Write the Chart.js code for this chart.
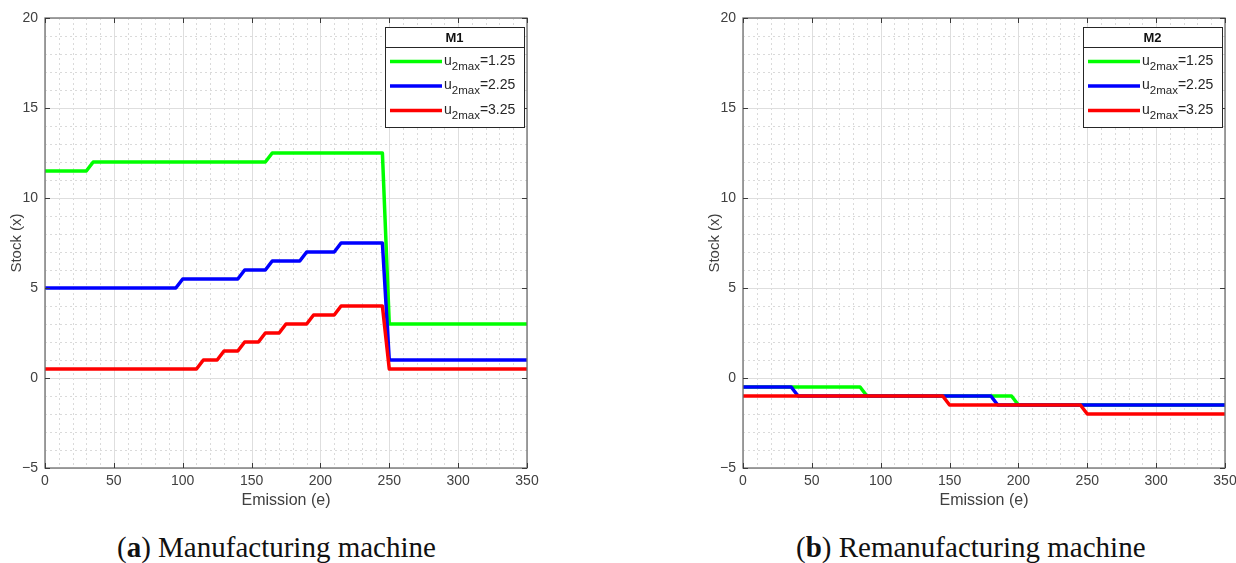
<!DOCTYPE html>
<html>
<head>
<meta charset="utf-8">
<script src="https://cdn.jsdelivr.net/npm/chart.js@4.4.1/dist/chart.umd.min.js"></script>
<style>
    body {
        margin: 0;
        background: #ffffff;
        width: 1236px;
        height: 563px;
        position: relative;
        overflow: hidden;
    }
    .panel {
        position: absolute;
        top: 0;
        width: 545px;
        height: 520px;
    }
    .caption {
        position: absolute;
        top: 530px;
        font-family: "Liberation Serif", "DejaVu Serif", serif;
        font-size: 29px;
        line-height: 34px;
        color: #111;
        white-space: nowrap;
    }
</style>
</head>
<body>
<div class="panel" style="left:0px"><canvas id="chartM1"></canvas></div>
<div class="panel" style="left:698px"><canvas id="chartM2"></canvas></div>
<div class="caption" id="capA" style="left:117px">(<b>a</b>) Manufacturing machine</div>
<div class="caption" id="capB" style="left:796px">(<b>b</b>) Remanufacturing machine</div>

<script>
// tick values / labels
const xTickValues = [0, 50, 100, 150, 200, 250, 300, 350];
const yTickValues = [-5, 0, 5, 10, 15, 20];
const yTickLabels = ["\u22125", "0", "5", "10", "15", "20"];

const legendValues = ["1.25", "2.25", "3.25"];
const lineColors = ["#00ff00", "#0000ff", "#ff0000"];

// M1 - manufacturing machine
const m1GreenX = [0, 30, 35, 160, 165, 245, 250, 350];
const m1GreenY = [11.5, 11.5, 12, 12, 12.5, 12.5, 3, 3];
const m1BlueX = [0, 95, 100, 140, 145, 160, 165, 185, 190, 210, 215, 245, 250, 350];
const m1BlueY = [5, 5, 5.5, 5.5, 6, 6, 6.5, 6.5, 7, 7, 7.5, 7.5, 1, 1];
const m1RedX = [0, 110, 115, 125, 130, 140, 145, 155, 160, 170, 175, 190, 195, 210, 215, 245, 250, 350];
const m1RedY = [0.5, 0.5, 1, 1, 1.5, 1.5, 2, 2, 2.5, 2.5, 3, 3, 3.5, 3.5, 4, 4, 0.5, 0.5];

// M2 - remanufacturing machine
const m2GreenX = [0, 85, 90, 195, 200, 350];
const m2GreenY = [-0.5, -0.5, -1, -1, -1.5, -1.5];
const m2BlueX = [0, 35, 40, 180, 185, 350];
const m2BlueY = [-0.5, -0.5, -1, -1, -1.5, -1.5];
const m2RedX = [0, 145, 150, 245, 250, 350];
const m2RedY = [-1, -1, -1.5, -1.5, -2, -2];

const axisColor = "#404040";

function toPoints(xs, ys) {
    return xs.map((x, i) => ({ x: x, y: ys[i] }));
}

// matlab style grid (major solid, minor dotted) + box with inward ticks
const matlabGrid = {
    id: "matlabGrid",
    beforeDatasetsDraw(chart) {
        const { ctx, chartArea: a, scales: { x, y } } = chart;
        ctx.save();
        ctx.lineWidth = 1;

        // minor lines
        ctx.strokeStyle = "#dadada";
        ctx.setLineDash([2, 3]);
        for (let v = x.min; v <= x.max; v += 10) {
            if (v % 50 === 0) continue;
            const px = Math.round(x.getPixelForValue(v)) + 0.5;
            ctx.beginPath();
            ctx.moveTo(px, a.top);
            ctx.lineTo(px, a.bottom);
            ctx.stroke();
        }
        for (let v = y.min; v <= y.max; v += 1) {
            if (v % 5 === 0) continue;
            const py = Math.round(y.getPixelForValue(v)) + 0.5;
            ctx.beginPath();
            ctx.moveTo(a.left, py);
            ctx.lineTo(a.right, py);
            ctx.stroke();
        }

        // major lines
        ctx.setLineDash([]);
        ctx.strokeStyle = "#dedede";
        xTickValues.forEach(v => {
            const px = Math.round(x.getPixelForValue(v)) + 0.5;
            ctx.beginPath();
            ctx.moveTo(px, a.top);
            ctx.lineTo(px, a.bottom);
            ctx.stroke();
        });
        yTickValues.forEach(v => {
            const py = Math.round(y.getPixelForValue(v)) + 0.5;
            ctx.beginPath();
            ctx.moveTo(a.left, py);
            ctx.lineTo(a.right, py);
            ctx.stroke();
        });
        ctx.restore();
    },
    afterDatasetsDraw(chart) {
        const { ctx, chartArea: a, scales: { x, y } } = chart;
        ctx.save();
        ctx.strokeStyle = "#6e6e6e";
        ctx.lineWidth = 1.3;
        ctx.strokeRect(a.left, a.top, a.right - a.left, a.bottom - a.top);

        ctx.lineWidth = 1;
        ctx.strokeStyle = "#3a3a3a";
        const tl = 5;
        xTickValues.forEach(v => {
            const px = Math.round(x.getPixelForValue(v)) + 0.5;
            ctx.beginPath();
            ctx.moveTo(px, a.bottom);
            ctx.lineTo(px, a.bottom - tl);
            ctx.moveTo(px, a.top);
            ctx.lineTo(px, a.top + tl);
            ctx.stroke();
        });
        yTickValues.forEach(v => {
            const py = Math.round(y.getPixelForValue(v)) + 0.5;
            ctx.beginPath();
            ctx.moveTo(a.left, py);
            ctx.lineTo(a.left + tl, py);
            ctx.moveTo(a.right, py);
            ctx.lineTo(a.right - tl, py);
            ctx.stroke();
        });
        ctx.restore();
    }
};

// legend box with title and subscript labels
const boxLegend = {
    id: "boxLegend",
    afterDraw(chart, args, opts) {
        const { ctx, chartArea: a } = chart;
        const w = 139;
        const h = 100;
        const left = a.right - 3 - w;
        const top = a.top + 9;

        ctx.save();
        ctx.fillStyle = "#ffffff";
        ctx.fillRect(left, top, w, h);
        ctx.strokeStyle = "#262626";
        ctx.lineWidth = 1;
        ctx.strokeRect(left + 0.5, top + 0.5, w, h);
        ctx.beginPath();
        ctx.moveTo(left, top + 20.5);
        ctx.lineTo(left + w, top + 20.5);
        ctx.stroke();

        ctx.fillStyle = "#111";
        ctx.font = "bold 13px 'Liberation Sans', Arial, sans-serif";
        ctx.textAlign = "center";
        ctx.textBaseline = "middle";
        ctx.fillText(opts.title, left + w / 2, top + 11);

        ctx.textAlign = "left";
        ctx.textBaseline = "alphabetic";
        chart.data.datasets.forEach((ds, i) => {
            const cy = top + 34.5 + i * 24.5;
            ctx.strokeStyle = ds.borderColor;
            ctx.lineWidth = 3.5;
            ctx.beginPath();
            ctx.moveTo(left + 5, cy);
            ctx.lineTo(left + 57, cy);
            ctx.stroke();

            let tx = left + 59;
            ctx.fillStyle = "#262626";
            ctx.font = "14px 'Liberation Sans', Arial, sans-serif";
            ctx.fillText("u", tx, cy + 3);
            tx += ctx.measureText("u").width;
            ctx.font = "11.5px 'Liberation Sans', Arial, sans-serif";
            ctx.fillText("2max", tx, cy + 8);
            tx += ctx.measureText("2max").width;
            ctx.font = "14px 'Liberation Sans', Arial, sans-serif";
            ctx.fillText("=" + legendValues[i], tx, cy + 3);
        });
        ctx.restore();
    }
};

function makeChart(canvasId, title, series) {
    const datasets = series.map((s, i) => ({
        label: "u2max=" + legendValues[i],
        data: toPoints(s[0], s[1]),
        borderColor: lineColors[i],
        borderWidth: 3.5,
        pointRadius: 0,
        tension: 0,
        borderJoinStyle: "round",
        order: series.length - i,
        clip: 3
    }));

    return new Chart(document.getElementById(canvasId), {
        type: "line",
        data: { datasets: datasets },
        plugins: [matlabGrid, boxLegend],
        options: {
            responsive: true,
            maintainAspectRatio: false,
            animation: false,
            layout: {
                padding: { top: 18, right: 18, left: 0, bottom: 0 }
            },
            plugins: {
                legend: { display: false },
                tooltip: { enabled: false },
                boxLegend: { title: title }
            },
            scales: {
                x: {
                    type: "linear",
                    min: 0,
                    max: 350,
                    grid: { display: false, drawTicks: false },
                    border: { display: false },
                    afterBuildTicks(scale) {
                        scale.ticks = xTickValues.map(v => ({ value: v }));
                    },
                    afterFit(scale) {
                        scale.height = 52;
                    },
                    ticks: {
                        padding: 5,
                        color: axisColor,
                        font: { family: "'Liberation Sans', Arial, sans-serif", size: 14 },
                        maxRotation: 0,
                        callback: value => String(value)
                    },
                    title: {
                        display: true,
                        text: "Emission (e)",
                        color: axisColor,
                        font: { family: "'Liberation Sans', Arial, sans-serif", size: 16 },
                        padding: { top: 0, bottom: 10 }
                    }
                },
                y: {
                    type: "linear",
                    min: -5,
                    max: 20,
                    grid: { display: false, drawTicks: false },
                    border: { display: false },
                    afterBuildTicks(scale) {
                        scale.ticks = yTickValues.map(v => ({ value: v }));
                    },
                    afterFit(scale) {
                        scale.width = 45;
                    },
                    ticks: {
                        padding: 7,
                        color: axisColor,
                        font: { family: "'Liberation Sans', Arial, sans-serif", size: 14 },
                        callback: value => yTickLabels[yTickValues.indexOf(value)]
                    },
                    title: {
                        display: true,
                        text: "Stock (x)",
                        color: axisColor,
                        font: { family: "'Liberation Sans', Arial, sans-serif", size: 15 },
                        padding: { top: 8, bottom: 0 }
                    }
                }
            }
        }
    });
}

makeChart("chartM1", "M1", [
    [m1GreenX, m1GreenY],
    [m1BlueX, m1BlueY],
    [m1RedX, m1RedY]
]);

makeChart("chartM2", "M2", [
    [m2GreenX, m2GreenY],
    [m2BlueX, m2BlueY],
    [m2RedX, m2RedY]
]);
</script>
</body>
</html>
